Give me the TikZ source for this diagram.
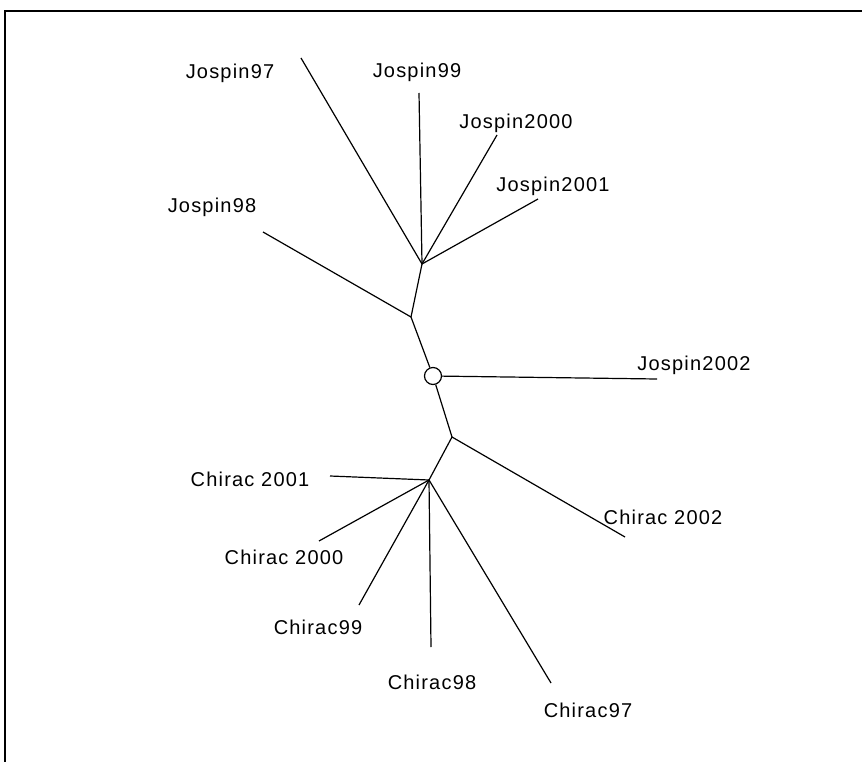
\documentclass[tikz,border=0pt]{standalone}
\usepackage{fontspec}
\setmainfont{Liberation Sans}
\newfontfamily\lblfont[LetterSpace=6]{Liberation Sans}
\begin{document}
\begin{tikzpicture}[x=1pt,y=-1pt,
  branch/.style={line width=1.2pt,black},
  frameline/.style={line width=1.6pt,black},
  lbl/.style={font=\lblfont\fontsize{20}{22}\selectfont,inner sep=0pt,anchor=center}]
\useasboundingbox[fill=white] (0,0) rectangle (862,762);
% frame
\coordinate (fa) at (862,11);
\coordinate (fb) at (5,11);
\coordinate (fc) at (5,762);
\draw[frameline] (fa) -- (fb) -- (fc);
% internal nodes
\coordinate (J) at (422,264);
\coordinate (A) at (411,317);
\node[circle,draw,line width=1.2pt,minimum size=17pt,inner sep=0pt] (C) at (433,376) {};
\coordinate (B) at (452,437);
\coordinate (K) at (429,480);
% leaves
\coordinate (j97) at (301,58);
\coordinate (j99) at (419,93);
\coordinate (j00) at (497,135);
\coordinate (j01) at (538,199);
\coordinate (j98) at (263,232);
\coordinate (j02) at (657,379);
\coordinate (c02) at (625,537);
\coordinate (c01) at (330,476);
\coordinate (c00) at (319,541);
\coordinate (c99) at (359,605);
\coordinate (c98) at (431,647);
\coordinate (c97) at (551,683);
% edges
\draw[branch] (J) -- (j97);
\draw[branch] (J) -- (j99);
\draw[branch] (J) -- (j00);
\draw[branch] (J) -- (j01);
\draw[branch] (J) -- (A);
\draw[branch] (A) -- (j98);
\draw[branch] (A) -- (C);
\draw[branch] (C) -- (j02);
\draw[branch] (C) -- (B);
\draw[branch] (B) -- (c02);
\draw[branch] (B) -- (K);
\draw[branch] (K) -- (c01);
\draw[branch] (K) -- (c00);
\draw[branch] (K) -- (c99);
\draw[branch] (K) -- (c98);
\draw[branch] (K) -- (c97);
% labels
\node[lbl] (lj97) at (230,73) {Jospin97};
\node[lbl] (lj99) at (417,72) {Jospin99};
\node[lbl] (lj00) at (516,123) {Jospin2000};
\node[lbl] (lj01) at (553,186) {Jospin2001};
\node[lbl] (lj98) at (212,207) {Jospin98};
\node[lbl] (lj02) at (694,365) {Jospin2002};
\node[lbl] (lc02) at (663,517) {Chirac 2002};
\node[lbl] (lc01) at (250,479) {Chirac 2001};
\node[lbl] (lc00) at (284,557) {Chirac 2000};
\node[lbl] (lc99) at (318,627) {Chirac99};
\node[lbl] (lc98) at (432,682) {Chirac98};
\node[lbl] (lc97) at (588,710) {Chirac97};
\end{tikzpicture}
\end{document}
